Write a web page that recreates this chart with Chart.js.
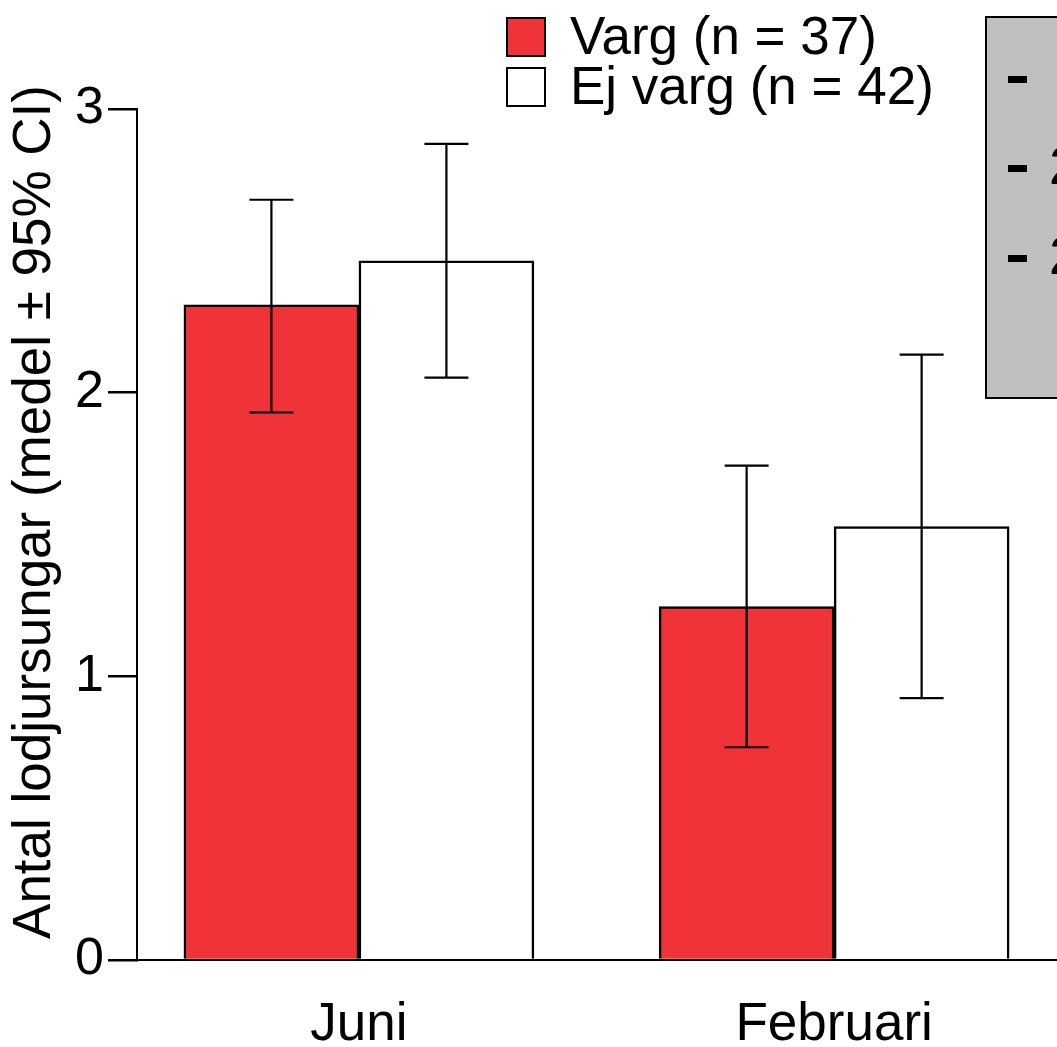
<!DOCTYPE html>
<html>
<head>
<meta charset="utf-8">
<script src="https://cdn.jsdelivr.net/npm/chart.js@4.4.1/dist/chart.umd.min.js"></script>
<style>
  html, body { margin: 0; padding: 0; background: #fff; overflow: hidden; }
  #wrap { width: 1057px; height: 1047px; position: relative; }
</style>
</head>
<body>
<div id="wrap"><canvas id="bar-chart"></canvas></div>
<script>
// data
var months = ["Juni", "Februari"];
var seriesNames = ["Varg (n = 37)", "Ej varg (n = 42)"];
var varg = [2.31, 1.246];
var vargLow = [1.93, 0.75];
var vargHigh = [2.68, 1.743];
var ejVarg = [2.465, 1.528];
var ejVargLow = [2.053, 0.923];
var ejVargHigh = [2.877, 2.134];
var yTicks = [0, 1, 2, 3];
var yTitle = "Antal lodjursungar (medel ± 95% CI)";
var insetRows = ["1", "2", "2"];

var FONT = "'Liberation Sans', Arial, sans-serif";
var RED = "#f03339";

function toPoints(values) {
  return values.map(function (v, i) { return { x: i, y: v }; });
}

// draws the 95% CI whiskers on each bar
var errorBars = {
  id: "errorBars",
  afterDatasetsDraw: function (chart) {
    var ctx = chart.ctx;
    var yScale = chart.scales.y;
    var ranges = [[vargLow, vargHigh], [ejVargLow, ejVargHigh]];
    ctx.save();
    ctx.strokeStyle = "#000";
    ctx.lineWidth = 2.2;
    chart.data.datasets.forEach(function (ds, d) {
      var meta = chart.getDatasetMeta(d);
      meta.data.forEach(function (bar, i) {
        var x = bar.x;
        var lo = yScale.getPixelForValue(ranges[d][0][i]);
        var hi = yScale.getPixelForValue(ranges[d][1][i]);
        ctx.beginPath();
        ctx.moveTo(x, lo); ctx.lineTo(x, hi);
        ctx.moveTo(x - 22, lo); ctx.lineTo(x + 22, lo);
        ctx.moveTo(x - 22, hi); ctx.lineTo(x + 22, hi);
        ctx.stroke();
      });
    });
    ctx.restore();
  }
};

// y title, legend in the top margin and the cut-off grey box on the right
var extras = {
  id: "extras",
  afterDraw: function (chart) {
    var ctx = chart.ctx;
    ctx.save();
    ctx.font = "53px " + FONT;
    ctx.fillStyle = "#000";

    ctx.save();
    ctx.translate(35, 512);
    ctx.rotate(-Math.PI / 2);
    ctx.textAlign = "center";
    ctx.textBaseline = "middle";
    ctx.fillText(yTitle, 0, 0);
    ctx.restore();

    ctx.textBaseline = "middle";
    ctx.textAlign = "left";
    chart.data.datasets.forEach(function (ds, d) {
      var top = 18 + d * 50;
      ctx.fillStyle = ds.backgroundColor;
      ctx.fillRect(507, top, 38, 38);
      ctx.strokeStyle = "#000";
      ctx.lineWidth = 2;
      ctx.strokeRect(507, top, 38, 38);
      ctx.fillStyle = "#000";
      ctx.fillText(ds.label, 570, top + 21);
    });

    ctx.fillStyle = "#c0c0c0";
    ctx.fillRect(986, 17, 90, 381);
    ctx.strokeStyle = "#000";
    ctx.lineWidth = 2;
    ctx.strokeRect(986, 17, 90, 381);
    insetRows.forEach(function (t, i) {
      var y = [79, 168, 258][i];
      ctx.fillStyle = "#000";
      ctx.fillRect(1008, y - 3, 19, 7);
      ctx.textBaseline = "alphabetic";
      ctx.fillText(t, i === 0 ? 1062 : 1049, y + 16);
    });
    ctx.restore();
  }
};

new Chart(document.getElementById("bar-chart"), {
  type: "bar",
  data: {
    datasets: [{
      label: seriesNames[0],
      data: toPoints(varg),
      backgroundColor: RED,
      borderColor: "#000",
      borderWidth: 2.5,
      barThickness: 175
    }, {
      label: seriesNames[1],
      data: toPoints(ejVarg),
      backgroundColor: "#ffffff",
      borderColor: "#000",
      borderWidth: 2.5,
      barThickness: 175
    }]
  },
  options: {
    responsive: true,
    maintainAspectRatio: false,
    animation: false,
    layout: { padding: { top: 109, left: 0, right: 0, bottom: 0 } },
    plugins: {
      legend: { display: false },
      tooltip: { enabled: false }
    },
    scales: {
      x: {
        type: "linear",
        min: -0.467,
        max: 1.469,
        offset: false,
        z: 1,
        afterBuildTicks: function (scale) {
          scale.ticks = months.map(function (m, i) { return { value: i }; });
        },
        afterFit: function (scale) { scale.height = 87; },
        ticks: {
          color: "#000",
          font: { family: FONT, size: 53 },
          padding: 34,
          maxRotation: 0,
          callback: function (v) { return months[v]; }
        },
        grid: { display: false, drawTicks: false },
        border: { display: true, color: "#000", width: 2 }
      },
      y: {
        min: 0,
        max: 3,
        afterBuildTicks: function (scale) {
          scale.ticks = yTicks.map(function (v) { return { value: v }; });
        },
        afterFit: function (scale) { scale.width = 137; },
        ticks: {
          color: "#000",
          font: { family: FONT, size: 52 },
          padding: 4
        },
        grid: {
          drawOnChartArea: false,
          drawTicks: true,
          tickLength: 29,
          color: "#000",
          lineWidth: 2.5
        },
        border: { display: true, color: "#000", width: 2 }
      }
    }
  },
  plugins: [errorBars, extras]
});
</script>
</body>
</html>
